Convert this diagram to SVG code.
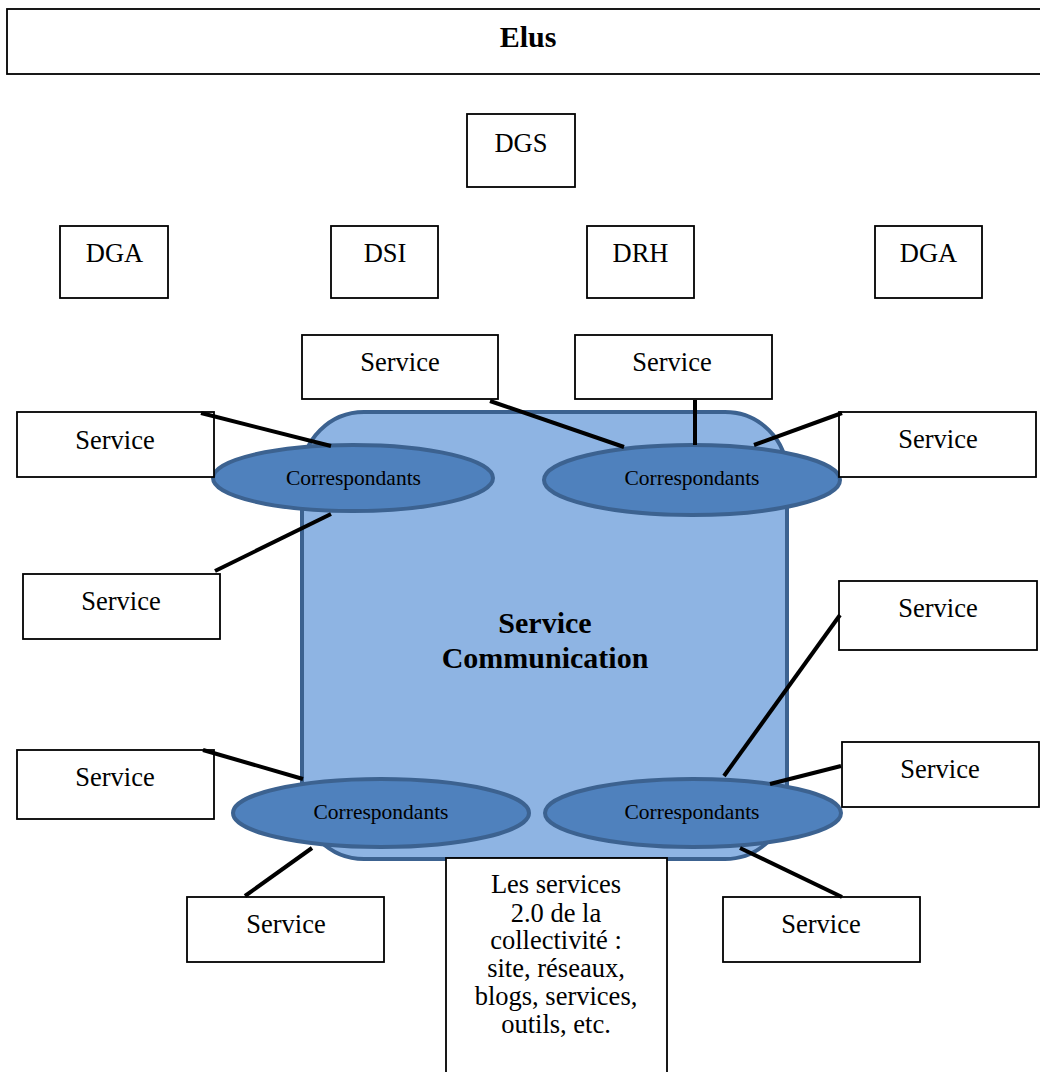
<svg xmlns="http://www.w3.org/2000/svg" width="1040" height="1072" viewBox="0 0 1040 1072" font-family="'Liberation Serif', 'Times New Roman', serif">
<style>
text{font-family:'Liberation Serif','Times New Roman',serif}
.box{fill:#fff;stroke:#000;stroke-width:1.8}
.t{font-size:26.5px;fill:#000;text-anchor:middle}
.b{font-weight:bold;font-size:30px}
.c{font-size:21.5px}
.corr{fill:#4f81bd;stroke:#3c6290;stroke-width:4}
.ln{stroke:#000;stroke-width:4;fill:none}
</style>
<rect width="1040" height="1072" fill="#fff"/>
<g id="elus"><rect class="box" x="7" y="9" width="1040" height="65"/><text class="t b" x="528" y="47">Elus</text></g>
<g id="dgs"><rect class="box" x="467" y="114" width="108" height="73"/><text class="t" x="521" y="152">DGS</text></g>
<g id="dga1"><rect class="box" x="60" y="226" width="108" height="72"/><text class="t" x="114.5" y="262">DGA</text></g>
<g id="dsi"><rect class="box" x="331" y="226" width="107" height="72"/><text class="t" x="385" y="262">DSI</text></g>
<g id="drh"><rect class="box" x="587" y="226" width="107" height="72"/><text class="t" x="640.5" y="262">DRH</text></g>
<g id="dga2"><rect class="box" x="875" y="226" width="107" height="72"/><text class="t" x="928.5" y="262">DGA</text></g>
<g id="comm"><rect x="302" y="412" width="485" height="447" rx="62" ry="62" fill="#8eb4e3" stroke="#3c6290" stroke-width="4"/>
<text class="t b" x="545" y="633">Service</text><text class="t b" x="545" y="668">Communication</text></g>
<g id="corr1"><ellipse class="corr" cx="353" cy="478" rx="140" ry="33"/><text class="t c" x="353.5" y="485">Correspondants</text></g>
<g id="corr2"><ellipse class="corr" cx="692" cy="480" rx="148" ry="35"/><text class="t c" x="692" y="485">Correspondants</text></g>
<g id="corr3"><ellipse class="corr" cx="381" cy="813" rx="148" ry="34"/><text class="t c" x="381" y="819">Correspondants</text></g>
<g id="corr4"><ellipse class="corr" cx="693" cy="813" rx="148" ry="34"/><text class="t c" x="692" y="819">Correspondants</text></g>
<g id="s1"><rect class="box" x="302" y="335" width="196" height="64"/><text class="t" x="400" y="371">Service</text></g>
<g id="s2"><rect class="box" x="575" y="335" width="197" height="64"/><text class="t" x="672" y="371">Service</text></g>
<g id="s3"><rect class="box" x="17" y="412" width="197" height="65"/><text class="t" x="115" y="449">Service</text></g>
<g id="s4"><rect class="box" x="839" y="412" width="197" height="65"/><text class="t" x="938" y="448">Service</text></g>
<g id="s5"><rect class="box" x="23" y="574" width="197" height="65"/><text class="t" x="121" y="610">Service</text></g>
<g id="s6"><rect class="box" x="839" y="581" width="198" height="69"/><text class="t" x="938" y="617">Service</text></g>
<g id="s7"><rect class="box" x="17" y="750" width="197" height="69"/><text class="t" x="115" y="786">Service</text></g>
<g id="s8"><rect class="box" x="842" y="742" width="197" height="65"/><text class="t" x="940" y="778">Service</text></g>
<g id="s9"><rect class="box" x="187" y="897" width="197" height="65"/><text class="t" x="286" y="933">Service</text></g>
<g id="s10"><rect class="box" x="723" y="897" width="197" height="65"/><text class="t" x="821" y="933">Service</text></g>
<g id="web"><rect class="box" x="446" y="858" width="221" height="230"/>
<text class="t" x="556" y="893">Les services</text>
<text class="t" x="556" y="922">2.0 de la</text>
<text class="t" x="556" y="949">collectivité :</text>
<text class="t" x="556" y="977">site, réseaux,</text>
<text class="t" x="556" y="1005">blogs, services,</text>
<text class="t" x="556" y="1033">outils, etc.</text></g>
<g id="connectors">
<line class="ln" x1="201" y1="413" x2="331" y2="446"/>
<line class="ln" x1="331" y1="514" x2="215" y2="571"/>
<line class="ln" x1="490" y1="401" x2="624" y2="447"/>
<line class="ln" x1="695" y1="400" x2="695" y2="445"/>
<line class="ln" x1="754" y1="445" x2="842" y2="413"/>
<line class="ln" x1="840" y1="615" x2="724" y2="776"/>
<line class="ln" x1="770" y1="784" x2="841" y2="766"/>
<line class="ln" x1="740" y1="848" x2="842" y2="897"/>
<line class="ln" x1="203" y1="750" x2="303" y2="779"/>
<line class="ln" x1="312" y1="848" x2="245" y2="896"/>
</g>
</svg>
